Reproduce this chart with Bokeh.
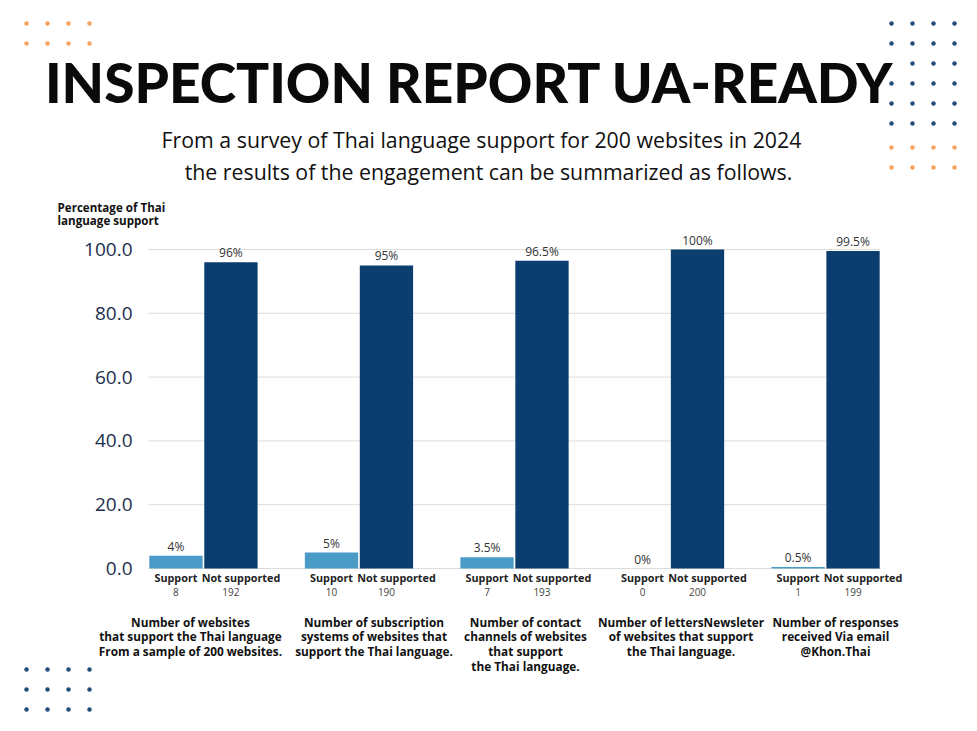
from bokeh.plotting import figure
from bokeh.models import Range1d, ColumnDataSource
from bokeh.embed import file_html
from bokeh.resources import INLINE
from bokeh.core.properties import value

# ---------------- data ----------------
groups = ["websites", "subscriptions", "contacts", "newsletters", "email"]
sub_labels = ["Support", "Not supported"]
support_pct = [4, 5, 3.5, 0, 0.5]
not_supported_pct = [96, 95, 96.5, 100, 99.5]
support_count = [8, 10, 7, 0, 1]
not_supported_count = [192, 190, 193, 200, 199]
group_descriptions = [
    "Number of websites\nthat support the Thai language\nFrom a sample of 200 websites.",
    "Number of subscription\nsystems of websites that\nsupport the Thai language.",
    "Number of contact\nchannels of websites\nthat support\nthe Thai language.",
    "Number of lettersNewsleter\nof websites that support\nthe Thai language.",
    "Number of responses\nreceived Via email\n@Khon.Thai",
]
y_ticks = [0, 20, 40, 60, 80, 100]
y_tick_labels = ["0.0", "20.0", "40.0", "60.0", "80.0", "100.0"]
title_text = "INSPECTION REPORT UA-READY"
subtitle_lines = ["From a survey of Thai language support for 200 websites in 2024",
                  "the results of the engagement can be summarized as follows."]
y_title = "Percentage of Thai\nlanguage support"

# ---------------- styles / layout ----------------
C_SUP = "#4a9bc8"
C_NOT = "#0b3d6e"
C_NAVY_TXT = "#1b2f4c"
C_DOT_NAVY = "#1f4e79"
C_DOT_ORANGE = "#f4a25c"
FONT = "Open Sans"
GROUP_PAD = 0.83
BAR_W = 0.97

W, H = 961, 715
# chart area in canvas pixels
CL, CR, C0, C100 = 148, 880, 568, 249

n_sub = len(sub_labels)
total = len(groups) * n_sub + (len(groups) - 1) * GROUP_PAD
upx = (CR - CL) / total
ppx = (C0 - C100) / 100.0

p = figure(width=W, height=H, output_backend="svg", toolbar_location=None,
           x_range=Range1d(0, W), y_range=Range1d(H, 0),
           x_axis_location=None, y_axis_location=None,
           min_border=0, min_border_left=0, min_border_right=0,
           min_border_top=0, min_border_bottom=0)
p.extra_x_ranges = {"bars": Range1d(-CL / upx, total + (W - CR) / upx)}
p.extra_y_ranges = {"pct": Range1d(-(H - C0) / ppx, 100 + C100 / ppx)}
p.outline_line_color = None
p.background_fill_color = "white"
p.border_fill_color = "white"
p.xgrid.visible = False
p.ygrid.visible = False

# positions of the bars on the categorical-like axis
xs, vals, cols, counts, kinds = [], [], [], [], []
for k in range(len(groups)):
    for j, s in enumerate(sub_labels):
        xs.append(k * (n_sub + GROUP_PAD) + j + 0.5)
        kinds.append(s)
    vals += [support_pct[k], not_supported_pct[k]]
    cols += [C_SUP, C_NOT]
    counts += [str(support_count[k]), str(not_supported_count[k])]
pct_text = [f"{v:g}%" for v in vals]
group_x = [k * (n_sub + GROUP_PAD) + n_sub / 2 for k in range(len(groups))]

sub_off = {"Support": 0, "Not supported": 10}
src = ColumnDataSource(dict(x=xs, top=vals, color=cols, label=pct_text, count=counts,
                            kind=kinds, y0=[0] * len(xs), xoff=[sub_off[k] for k in kinds]))

# grid lines
p.segment(x0=[0] * len(y_ticks), x1=[total] * len(y_ticks), y0=y_ticks, y1=y_ticks,
          line_color="#dcdcdc", line_width=1, x_range_name="bars", y_range_name="pct")

# bars
p.vbar(x="x", top="top", bottom=0, width=BAR_W, color="color", source=src, line_color=None,
       x_range_name="bars", y_range_name="pct")
p.text(x="x", y="top", text="label", source=src, text_align="center", text_baseline="bottom",
       y_offset=-1, text_font=value(FONT), text_font_size="12px", text_color="#333333",
       x_range_name="bars", y_range_name="pct")

# y tick labels
p.text(x=[CL - 16] * len(y_ticks), y=y_ticks, text=y_tick_labels, text_align="right",
       text_baseline="middle", text_font=value(FONT), text_font_size="19px",
       text_color=C_NAVY_TXT, y_range_name="pct")

# x sub labels and counts
p.text(x="x", y="y0", text="kind", source=src, x_offset="xoff", y_offset=9,
       text_align="center", text_baseline="middle", text_font=value(FONT),
       text_font_style="bold", text_font_size="10.8px", text_color="#222222",
       x_range_name="bars", y_range_name="pct")
p.text(x="x", y="y0", text="count", source=src, y_offset=23,
       text_align="center", text_baseline="middle", text_font=value(FONT),
       text_font_size="10px", text_color="#444444",
       x_range_name="bars", y_range_name="pct")

# group descriptions
desc_offsets = [-13, 15, 11, 11, 10]
p.text(x=group_x, y=[0] * len(groups), text=group_descriptions, x_offset=desc_offsets,
       y_offset=45, text_align="center", text_baseline="top", text_font=value(FONT),
       text_font_style="bold", text_font_size="11.8px", text_line_height=0.93,
       text_color="#111111", x_range_name="bars", y_range_name="pct")

# titles (canvas pixel space)
p.text(x=[469], y=[81], text=[title_text], text_align="center", text_baseline="middle",
       text_font=value("Lato Black, Lato"), text_font_style="bold", text_font_size="55px",
       text_color="#0a0a0a")
p.text(x=[481, 488], y=[139, 171], text=subtitle_lines, text_align="center",
       text_baseline="middle", text_font=value(FONT), text_font_size="21.3px",
       text_color="#111111")
p.text(x=[57], y=[199], text=[y_title], text_align="left", text_baseline="top",
       text_font=value(FONT), text_font_style="bold", text_font_size="11.6px",
       text_line_height=0.88, text_color="#111111")

# decorative dot grids
def dot_grid(x0, y0, ncols, nrows, color, skip=()):
    dx, dy = [], []
    for j in range(nrows):
        for i in range(ncols):
            if (i, j) not in skip:
                dx.append(x0 + 21 * i)
                dy.append(y0 + 20 * j)
    p.scatter(dx, dy, size=4.5, marker="circle", color=color, line_color=None)

dot_grid(26, 23, 4, 2, C_DOT_ORANGE)
dot_grid(891, 23, 4, 6, C_DOT_NAVY, skip={(0, 2)})
dot_grid(891, 147, 4, 2, C_DOT_ORANGE)
dot_grid(26, 669, 4, 3, C_DOT_NAVY)

open("out.html", "w").write(file_html(p, INLINE))
